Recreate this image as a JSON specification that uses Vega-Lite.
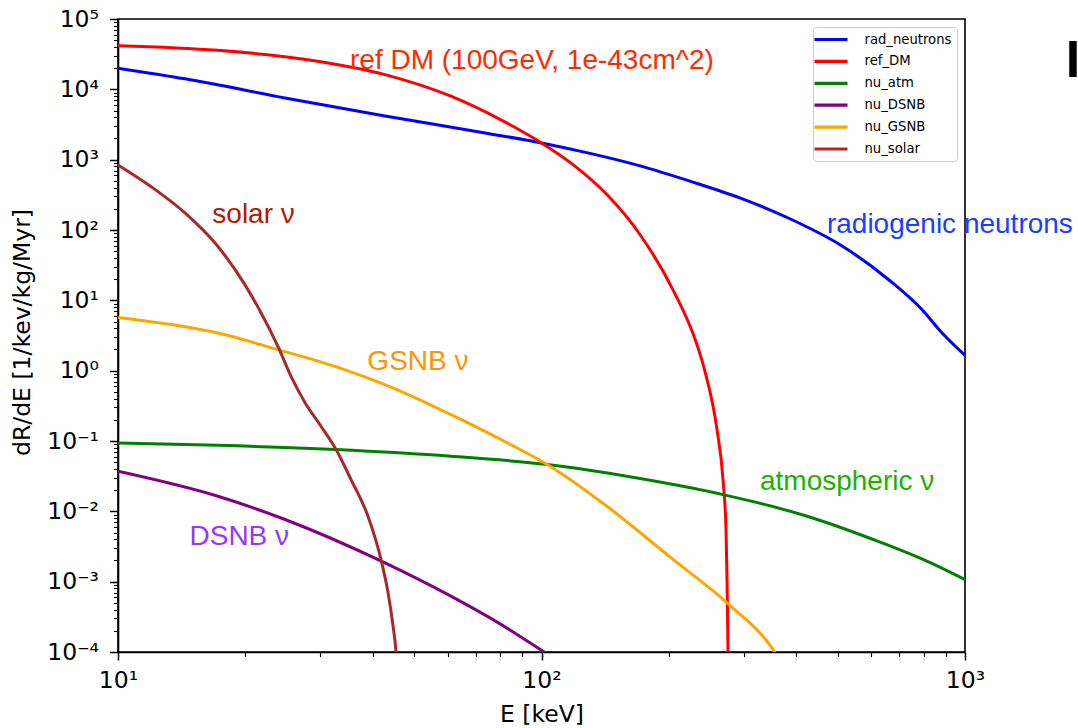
{
  "$schema": "https://vega.github.io/schema/vega-lite/v6.json",
  "width": 847,
  "height": 633,
  "autosize": {"type": "none"},
  "padding": {"left": 118, "top": 19, "right": 113, "bottom": 76},
  "background": "white",
  "config": {
    "view": {"stroke": "black", "strokeWidth": 1.6},
    "font": "DejaVu Sans"
  },
  "datasets": {
    "curves": [
      {"series": "rad_neutrons", "E": 10, "rate": 20000},
      {"series": "rad_neutrons", "E": 14.4, "rate": 14100},
      {"series": "rad_neutrons", "E": 24.8, "rate": 7550},
      {"series": "rad_neutrons", "E": 42.7, "rate": 4190},
      {"series": "rad_neutrons", "E": 73.6, "rate": 2400},
      {"series": "rad_neutrons", "E": 100, "rate": 1730},
      {"series": "rad_neutrons", "E": 130.2, "rate": 1230},
      {"series": "rad_neutrons", "E": 171, "rate": 817},
      {"series": "rad_neutrons", "E": 224.2, "rate": 495},
      {"series": "rad_neutrons", "E": 294, "rate": 286},
      {"series": "rad_neutrons", "E": 386, "rate": 144.5},
      {"series": "rad_neutrons", "E": 507, "rate": 61.7},
      {"series": "rad_neutrons", "E": 665, "rate": 19.0},
      {"series": "rad_neutrons", "E": 796, "rate": 7.11},
      {"series": "rad_neutrons", "E": 873, "rate": 3.70},
      {"series": "rad_neutrons", "E": 1000, "rate": 1.65},

      {"series": "ref_DM", "E": 10, "rate": 41800},
      {"series": "ref_DM", "E": 17.2, "rate": 35900},
      {"series": "ref_DM", "E": 29.6, "rate": 25100},
      {"series": "ref_DM", "E": 42.7, "rate": 16200},
      {"series": "ref_DM", "E": 61.1, "rate": 7980},
      {"series": "ref_DM", "E": 80.2, "rate": 3680},
      {"series": "ref_DM", "E": 100, "rate": 1730},
      {"series": "ref_DM", "E": 118.7, "rate": 851},
      {"series": "ref_DM", "E": 142.7, "rate": 319},
      {"series": "ref_DM", "E": 170.8, "rate": 86.3},
      {"series": "ref_DM", "E": 204.4, "rate": 14.1},
      {"series": "ref_DM", "E": 232.9, "rate": 2.34},
      {"series": "ref_DM", "E": 243.2, "rate": 0.98},
      {"series": "ref_DM", "E": 259.7, "rate": 0.145},
      {"series": "ref_DM", "E": 268.3, "rate": 0.0283},
      {"series": "ref_DM", "E": 272.7, "rate": 0.0055},
      {"series": "ref_DM", "E": 274.2, "rate": 0.00107},
      {"series": "ref_DM", "E": 275.7, "rate": 0.0001},
      {"series": "ref_DM", "E": 276, "rate": 0.00005},

      {"series": "nu_atm", "E": 10, "rate": 0.094},
      {"series": "nu_atm", "E": 17.22, "rate": 0.0869},
      {"series": "nu_atm", "E": 32.54, "rate": 0.0755},
      {"series": "nu_atm", "E": 61.1, "rate": 0.0607},
      {"series": "nu_atm", "E": 103.3, "rate": 0.0462},
      {"series": "nu_atm", "E": 170.8, "rate": 0.0292},
      {"series": "nu_atm", "E": 268.3, "rate": 0.0173},
      {"series": "nu_atm", "E": 423.8, "rate": 0.00851},
      {"series": "nu_atm", "E": 606.9, "rate": 0.00398},
      {"series": "nu_atm", "E": 796, "rate": 0.00207},
      {"series": "nu_atm", "E": 1000, "rate": 0.00107},

      {"series": "nu_DSNB", "E": 10, "rate": 0.0372},
      {"series": "nu_DSNB", "E": 17.22, "rate": 0.0164},
      {"series": "nu_DSNB", "E": 24.8, "rate": 0.00766},
      {"series": "nu_DSNB", "E": 42.7, "rate": 0.00185},
      {"series": "nu_DSNB", "E": 61.1, "rate": 0.000622},
      {"series": "nu_DSNB", "E": 80.2, "rate": 0.000247},
      {"series": "nu_DSNB", "E": 99.2, "rate": 0.000109},
      {"series": "nu_DSNB", "E": 103, "rate": 0.000094},

      {"series": "nu_GSNB", "E": 10, "rate": 5.71},
      {"series": "nu_GSNB", "E": 17.22, "rate": 3.43},
      {"series": "nu_GSNB", "E": 23.86, "rate": 1.99},
      {"series": "nu_GSNB", "E": 32.54, "rate": 1.15},
      {"series": "nu_GSNB", "E": 42.7, "rate": 0.632},
      {"series": "nu_GSNB", "E": 61.1, "rate": 0.237},
      {"series": "nu_GSNB", "E": 80.2, "rate": 0.105},
      {"series": "nu_GSNB", "E": 104.7, "rate": 0.0438},
      {"series": "nu_GSNB", "E": 142.7, "rate": 0.0118},
      {"series": "nu_GSNB", "E": 204.4, "rate": 0.00207},
      {"series": "nu_GSNB", "E": 274.2, "rate": 0.000501},
      {"series": "nu_GSNB", "E": 352.1, "rate": 0.000109},
      {"series": "nu_GSNB", "E": 362, "rate": 0.000085},

      {"series": "nu_solar", "E": 10, "rate": 843},
      {"series": "nu_solar", "E": 11.96, "rate": 415},
      {"series": "nu_solar", "E": 14.39, "rate": 175},
      {"series": "nu_solar", "E": 17.22, "rate": 58.3},
      {"series": "nu_solar", "E": 19.95, "rate": 16.6},
      {"series": "nu_solar", "E": 21.76, "rate": 6.67},
      {"series": "nu_solar", "E": 23.86, "rate": 2.21},
      {"series": "nu_solar", "E": 25.62, "rate": 0.83},
      {"series": "nu_solar", "E": 27.65, "rate": 0.351},
      {"series": "nu_solar", "E": 30.16, "rate": 0.162},
      {"series": "nu_solar", "E": 32.72, "rate": 0.0755},
      {"series": "nu_solar", "E": 35.5, "rate": 0.0283},
      {"series": "nu_solar", "E": 38.93, "rate": 0.00851},
      {"series": "nu_solar", "E": 41.78, "rate": 0.00207},
      {"series": "nu_solar", "E": 43.41, "rate": 0.000703},
      {"series": "nu_solar", "E": 44.62, "rate": 0.000233},
      {"series": "nu_solar", "E": 45.27, "rate": 0.00011},
      {"series": "nu_solar", "E": 45.5, "rate": 0.00007}
    ],
    "notes": [
      {"note": "ref DM (100GeV, 1e-43cm^2)", "E": 35.3, "rate": 19500},
      {"note": "radiogenic neutrons", "E": 472, "rate": 91},
      {"note": "solar ν", "E": 16.7, "rate": 125},
      {"note": "GSNB ν", "E": 38.8, "rate": 1.03},
      {"note": "atmospheric ν", "E": 328, "rate": 0.0204},
      {"note": "DSNB ν", "E": 14.75, "rate": 0.00337}
    ],
    "side": [
      {"mark": "I", "E": 1729, "rate": 15000}
    ]
  },
  "resolve": {"scale": {"color": "independent"}},
  "layer": [
    {
      "data": {"name": "curves"},
      "mark": {"type": "line", "strokeWidth": 3, "clip": true, "interpolate": "monotone"},
      "encoding": {
        "x": {
          "field": "E", "type": "quantitative",
          "scale": {"type": "log", "domain": [10, 1000], "nice": false},
          "axis": {
            "title": "E [keV]",
            "values": [10, 20, 30, 40, 50, 60, 70, 80, 90, 100, 200, 300, 400, 500, 600, 700, 800, 900, 1000],
            "labelExpr": "abs(log(datum.value)/LN10 - round(log(datum.value)/LN10)) > 0.001 ? '' : '10' + (datum.value < 1 ? '⁻' : '') + ['⁰','¹','²','³','⁴','⁵','⁶','⁷','⁸','⁹'][abs(round(log(datum.value)/LN10))]",
            "tickSize": {"condition": {"test": "abs(log(datum.value)/LN10 - round(log(datum.value)/LN10)) < 0.001", "value": 8}, "value": 4.5},
            "tickWidth": {"condition": {"test": "abs(log(datum.value)/LN10 - round(log(datum.value)/LN10)) < 0.001", "value": 1.5}, "value": 1.1},
            "tickColor": "black",
            "domainColor": "black",
            "domainWidth": 1.6,
            "grid": false,
            "labelFont": "DejaVu Sans",
            "labelFontSize": 23.5,
            "labelColor": "black",
            "labelBaseline": "alphabetic",
            "labelPadding": 27,
            "labelFlush": false,
            "labelOverlap": false,
            "titleFont": "DejaVu Sans",
            "titleFontSize": 23.5,
            "titleFontWeight": "normal",
            "titleColor": "black",
            "titleBaseline": "alphabetic",
            "titleY": 69
          }
        },
        "y": {
          "field": "rate", "type": "quantitative",
          "scale": {"type": "log", "domain": [0.0001, 100000], "nice": false},
          "axis": {
            "title": "dR/dE [1/kev/kg/Myr]",
            "values": [0.0001, 0.0002, 0.0003, 0.0004, 0.0005, 0.0006, 0.0007, 0.0008, 0.0009,
                       0.001, 0.002, 0.003, 0.004, 0.005, 0.006, 0.007, 0.008, 0.009,
                       0.01, 0.02, 0.03, 0.04, 0.05, 0.06, 0.07, 0.08, 0.09,
                       0.1, 0.2, 0.3, 0.4, 0.5, 0.6, 0.7, 0.8, 0.9,
                       1, 2, 3, 4, 5, 6, 7, 8, 9,
                       10, 20, 30, 40, 50, 60, 70, 80, 90,
                       100, 200, 300, 400, 500, 600, 700, 800, 900,
                       1000, 2000, 3000, 4000, 5000, 6000, 7000, 8000, 9000,
                       10000, 20000, 30000, 40000, 50000, 60000, 70000, 80000, 90000,
                       100000],
            "labelExpr": "abs(log(datum.value)/LN10 - round(log(datum.value)/LN10)) > 0.001 ? '' : '10' + (datum.value < 1 ? '⁻' : '') + ['⁰','¹','²','³','⁴','⁵','⁶','⁷','⁸','⁹'][abs(round(log(datum.value)/LN10))]",
            "tickSize": {"condition": {"test": "abs(log(datum.value)/LN10 - round(log(datum.value)/LN10)) < 0.001", "value": 8.5}, "value": 4.5},
            "tickWidth": {"condition": {"test": "abs(log(datum.value)/LN10 - round(log(datum.value)/LN10)) < 0.001", "value": 1.5}, "value": 1.1},
            "tickColor": "black",
            "domainColor": "black",
            "domainWidth": 1.6,
            "grid": false,
            "labelFont": "DejaVu Sans",
            "labelFontSize": 23.5,
            "labelColor": "black",
            "labelPadding": 11,
            "labelFlush": false,
            "labelOverlap": false,
            "titleFont": "DejaVu Sans",
            "titleFontSize": 23.5,
            "titleFontWeight": "normal",
            "titleColor": "black",
            "titleAngle": -90,
            "titleAlign": "center",
            "titleBaseline": "middle",
            "titleX": -96,
            "titleY": 313
          }
        },
        "color": {
          "field": "series", "type": "nominal",
          "scale": {
            "domain": ["rad_neutrons", "ref_DM", "nu_atm", "nu_DSNB", "nu_GSNB", "nu_solar"],
            "range": ["#0000ff", "#ff0000", "#008000", "#800080", "#ffa500", "#a52a2a"]
          },
          "legend": {
            "title": null,
            "orient": "none",
            "legendX": 695,
            "legendY": 8,
            "symbolType": "M-3,0H3",
            "symbolSize": 121,
            "symbolStrokeWidth": 3.2,
            "symbolOffset": 5.5,
            "labelOffset": 26,
            "labelFont": "DejaVu Sans",
            "labelFontSize": 13.2,
            "labelColor": "black",
            "padding": 5,
            "rowPadding": 7.9,
            "strokeColor": "#cccccc",
            "fillColor": "rgba(255,255,255,0.8)",
            "cornerRadius": 3
          }
        }
      }
    },
    {
      "data": {"name": "notes"},
      "mark": {"type": "text", "font": "Liberation Sans", "fontSize": 28, "align": "left", "baseline": "alphabetic"},
      "encoding": {
        "x": {"field": "E", "type": "quantitative", "scale": {"type": "log", "domain": [10, 1000], "nice": false}},
        "y": {"field": "rate", "type": "quantitative", "scale": {"type": "log", "domain": [0.0001, 100000], "nice": false}},
        "text": {"field": "note"},
        "color": {
          "field": "note", "type": "nominal", "legend": null,
          "scale": {
            "domain": ["ref DM (100GeV, 1e-43cm^2)", "radiogenic neutrons", "solar ν", "GSNB ν", "atmospheric ν", "DSNB ν"],
            "range": ["#ff2a00", "#1a3dff", "#b51a00", "#ff9300", "#1db100", "#9437ff"]
          }
        }
      }
    },
    {
      "data": {"name": "side"},
      "mark": {"type": "text", "font": "Liberation Sans", "fontSize": 52, "fontWeight": "bold", "align": "left", "baseline": "alphabetic", "color": "black"},
      "encoding": {
        "x": {"field": "E", "type": "quantitative", "scale": {"type": "log", "domain": [10, 1000], "nice": false}},
        "y": {"field": "rate", "type": "quantitative", "scale": {"type": "log", "domain": [0.0001, 100000], "nice": false}},
        "text": {"field": "mark"}
      }
    }
  ]
}
